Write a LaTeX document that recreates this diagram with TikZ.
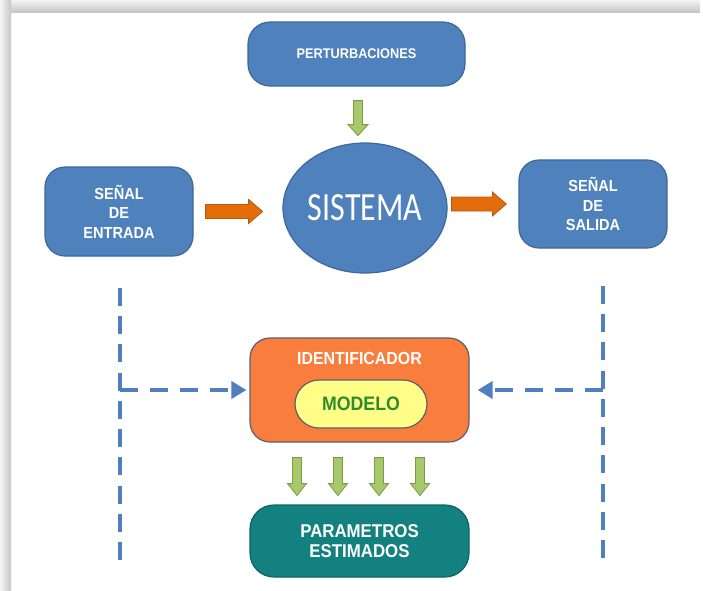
\documentclass[tikz,border=0pt]{standalone}
\usepackage{fontspec}
\usepackage{graphicx}
\setmainfont[FakeStretch=0.91]{Liberation Sans}
\newfontfamily\calib{Carlito}
\usetikzlibrary{shapes.geometric,arrows.meta,calc}
\definecolor{boxblue}{HTML}{4F81BD}
\definecolor{boxedge}{HTML}{3D6899}
\definecolor{arrorange}{HTML}{E46C0A}
\definecolor{arrorangeedge}{HTML}{B65A10}
\definecolor{idorange}{HTML}{F97D3C}
\definecolor{idedge}{HTML}{5C5F6E}
\definecolor{modyellow}{HTML}{FFFF88}
\definecolor{modgreen}{HTML}{2E8B2E}
\definecolor{teal}{HTML}{138180}
\definecolor{tealedge}{HTML}{0E6464}
\definecolor{arrgreen}{HTML}{A8C86C}
\definecolor{arrgreenedge}{HTML}{7C9C45}
\definecolor{dashblue}{HTML}{4F7FBE}
% block arrow: #1 start, #2 end, #3 shaft half width, #4 head half width, #5 head length, #6 style
\newcommand\blockarrow[6]{%
  \draw[#6] let \p{a}=#1, \p{b}=#2 in
    coordinate (BAa) at (\p{a}) coordinate (BAb) at (\p{b})
    coordinate (BAh) at ($(BAb)!#5!(BAa)$)
    ($(BAa)!#3!90:(BAb)$) -- ($(BAh)!#3!-90:(BAa)$) -- ($(BAh)!#4!-90:(BAa)$) -- (BAb)
    -- ($(BAh)!#4!90:(BAa)$) -- ($(BAh)!#3!90:(BAa)$) -- ($(BAa)!#3!-90:(BAb)$) -- cycle;}
\begin{document}
\begin{tikzpicture}[x=1pt,y=-1pt,
  bluebox/.style={draw=boxedge,line width=1.2pt,fill=boxblue,rounded corners=20pt,
    text=white,font=\bfseries\fontsize{16}{19.5}\selectfont,align=center,inner sep=0pt},
  orangearr/.style={fill=arrorange,draw=arrorangeedge,line width=0.8pt},
  greenarr/.style={fill=arrgreen,draw=arrgreenedge,line width=0.8pt},
  dashline/.style={draw=dashblue,line width=4pt,dash pattern=on 18pt off 10.22pt},
  hdash/.style={draw=dashblue,line width=4pt,dash pattern=on 18pt off 12pt,
    -{Triangle[length=15pt,width=17pt]}}]
\useasboundingbox (0,0) rectangle (703,590);
\fill[white] (0,0) rectangle (703,590);
\shade[top color=gray!8,bottom color=gray!45] (0,0) rectangle (700,12);
\shade[left color=gray!8,right color=gray!45] (0,0) rectangle (11,590);

\node[bluebox,rounded corners=22pt,minimum width=217pt,minimum height=64pt,
  font=\bfseries\fontsize{14}{16}\selectfont] (pert) at (356.5,54) {PERTURBACIONES};
\node[bluebox,minimum width=148pt,minimum height=89pt] (in) at (119,211.5) {SEÑAL\\DE\\ENTRADA};
\node[bluebox,minimum width=148pt,minimum height=88pt] (out) at (593,204) {SEÑAL\\DE\\SALIDA};
\node[ellipse,draw=boxedge,line width=1.2pt,fill=boxblue,minimum width=164pt,minimum height=130pt,
  inner sep=0pt,text=white] (sis) at (365,208)
  {\scalebox{1}[1.25]{\calib\fontsize{32}{36}\selectfont SISTEMA}};

\node[draw=idedge,line width=1.2pt,fill=idorange,rounded corners=20pt,
  minimum width=219pt,minimum height=104pt,inner sep=0pt,
  label={[anchor=north,text=white,font=\bfseries\fontsize{17.5}{19}\selectfont,yshift=-11pt]north:IDENTIFICADOR}]
  (ident) at (359.5,390) {};
\node[draw=idedge,line width=1.2pt,fill=modyellow,rounded corners=24pt,
  minimum width=132pt,minimum height=48pt,inner sep=0pt,text=modgreen,
  font=\bfseries\fontsize{19.5}{21}\selectfont] (modelo) at (361,404) {MODELO};
\node[draw=tealedge,line width=1.2pt,fill=teal,rounded corners=24pt,
  minimum width=219pt,minimum height=72pt,inner sep=0pt,text=white,align=center,
  font=\bfseries\fontsize{18.5}{19.5}\selectfont] (param) at (359.5,541) {PARAMETROS\\ESTIMADOS};

% block arrows
\blockarrow{($(in.east)+(12,0)$)}{($(in.east)+(69,0)$)}{7pt}{12pt}{14pt}{orangearr}
\blockarrow{($(out.west)+(-67,0)$)}{($(out.west)+(-12,0)$)}{7pt}{12pt}{14pt}{orangearr}
\blockarrow{($(pert.south)+(1.5,14)$)}{($(pert.south)+(1.5,49)$)}{4.5pt}{10pt}{11pt}{greenarr}
\foreach \dx in {-62.5,-21.5,19.5,60.5}{
  \blockarrow{($(ident.south)+(\dx,15)$)}{($(ident.south)+(\dx,53)$)}{4.5pt}{9.5pt}{12pt}{greenarr}
}

% dashed signal lines
\coordinate (lt) at (120,288);
\coordinate (lb) at (120,560);
\coordinate (rt) at (603,286);
\coordinate (rb) at (603,558);
\draw[dashline] (lt) -- (lb);
\draw[dashline] (rt) -- (rb);
\draw[hdash] (lt |- ident.west) -- ([xshift=-3pt]ident.west);
\draw[hdash] (rt |- ident.east) -- ([xshift=8pt]ident.east);
\end{tikzpicture}
\end{document}
